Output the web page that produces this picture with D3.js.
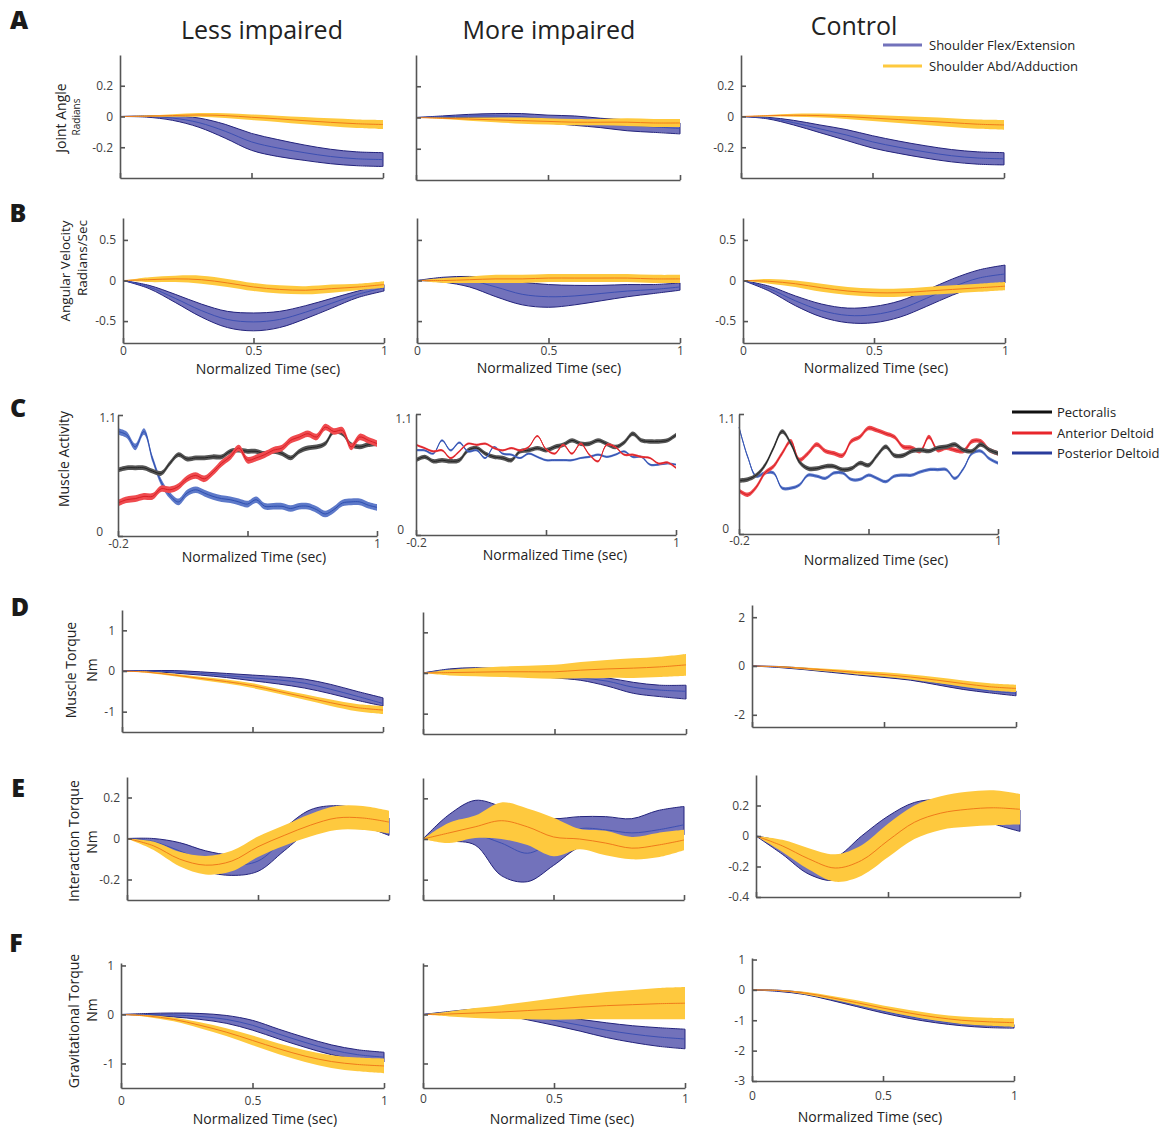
<!DOCTYPE html>
<html>
<head>
<meta charset="utf-8">
<script src="https://cdn.jsdelivr.net/npm/d3@7"></script>
<style>
  html, body { margin: 0; padding: 0; background: #fff; }
  svg { display: block; font-family: "Open Sans", "Noto Sans", sans-serif; }
</style>
</head>
<body>
<script>
// ---------------- DATA ----------------
const tNorm = [0, 0.1, 0.2, 0.3, 0.4, 0.5, 0.6, 0.7, 0.8, 0.9, 1.0];
const tEmg = [-0.2, -0.16, -0.12, -0.08, -0.04, 0, 0.04, 0.08, 0.12, 0.16, 0.2, 0.24, 0.28, 0.32, 0.36, 0.4,
              0.44, 0.48, 0.52, 0.56, 0.6, 0.64, 0.68, 0.72, 0.76, 0.8, 0.84, 0.88, 0.92, 0.96, 1.0];

const columnTitles = ["Less impaired", "More impaired", "Control"];
const jointLegend = ["Shoulder Flex/Extension", "Shoulder Abd/Adduction"];
const muscleLegend = ["Pectoralis", "Anterior Deltoid", "Posterior Deltoid"];
const rowLetters = ["A", "B", "C", "D", "E", "F"];
const emgYTickLabels = ["0", "1.1"];

// A: Joint angle (radians)
const angLessFlexMean = [0, 0, -0.01, -0.04, -0.096, -0.165, -0.205, -0.235, -0.26, -0.275, -0.28];
const angLessFlexSD   = [0, 0.004, 0.015, 0.03, 0.045, 0.055, 0.055, 0.05, 0.047, 0.045, 0.045];
const angLessAbdMean  = [0, 0.002, 0.006, 0.01, 0.006, -0.005, -0.015, -0.027, -0.038, -0.047, -0.052];
const angLessAbdSD    = [0, 0.004, 0.008, 0.012, 0.015, 0.018, 0.02, 0.023, 0.026, 0.028, 0.03];
const angMoreFlexMean = [0, 0.005, 0.01, 0.01, 0.005, -0.01, -0.02, -0.035, -0.05, -0.06, -0.07];
const angMoreFlexSD   = [0, 0.005, 0.01, 0.015, 0.02, 0.025, 0.03, 0.03, 0.035, 0.035, 0.035];
const angMoreAbdMean  = [0, -0.005, -0.01, -0.015, -0.02, -0.025, -0.03, -0.03, -0.03, -0.035, -0.035];
const angMoreAbdSD    = [0, 0.005, 0.01, 0.015, 0.02, 0.02, 0.02, 0.02, 0.025, 0.025, 0.025];
const angCtrlFlexMean = [0, -0.01, -0.04, -0.08, -0.12, -0.165, -0.2, -0.23, -0.255, -0.27, -0.275];
const angCtrlFlexSD   = [0, 0.005, 0.015, 0.025, 0.035, 0.04, 0.04, 0.04, 0.04, 0.04, 0.04];
const angCtrlAbdMean  = [0, 0.005, 0.008, 0.006, 0, -0.01, -0.02, -0.03, -0.04, -0.05, -0.055];
const angCtrlAbdSD    = [0, 0.005, 0.01, 0.013, 0.016, 0.02, 0.023, 0.026, 0.028, 0.03, 0.032];

// B: Angular velocity (radians/sec)
const velLessFlexMean = [0, -0.08, -0.22, -0.37, -0.48, -0.51, -0.48, -0.39, -0.28, -0.17, -0.09];
const velLessFlexSD   = [0, 0.02, 0.05, 0.08, 0.1, 0.11, 0.1, 0.08, 0.06, 0.04, 0.04];
const velLessAbdMean  = [0, 0.01, 0.02, 0.01, -0.03, -0.08, -0.11, -0.12, -0.1, -0.08, -0.05];
const velLessAbdSD    = [0, 0.03, 0.04, 0.05, 0.05, 0.05, 0.05, 0.05, 0.05, 0.04, 0.04];
const velMoreFlexMean = [0, 0.01, 0, -0.08, -0.17, -0.2, -0.19, -0.16, -0.13, -0.11, -0.08];
const velMoreFlexLo   = [0, -0.02, -0.08, -0.2, -0.3, -0.33, -0.3, -0.25, -0.2, -0.16, -0.12];
const velMoreFlexHi   = [0, 0.04, 0.05, 0.03, -0.02, -0.05, -0.06, -0.06, -0.05, -0.05, -0.03];
const velMoreAbdMean  = [0, 0, 0.01, 0.02, 0.02, 0.03, 0.03, 0.03, 0.03, 0.02, 0.02];
const velMoreAbdSD    = [0, 0.03, 0.04, 0.05, 0.05, 0.05, 0.05, 0.05, 0.05, 0.05, 0.05];
const velCtrlFlexMean = [0, -0.1, -0.25, -0.37, -0.43, -0.42, -0.35, -0.22, -0.08, 0.03, 0.08];
const velCtrlFlexSD   = [0, 0.03, 0.06, 0.08, 0.09, 0.1, 0.1, 0.1, 0.1, 0.1, 0.11];
const velCtrlAbdMean  = [0, -0.01, -0.04, -0.09, -0.13, -0.15, -0.15, -0.13, -0.11, -0.09, -0.07];
const velCtrlAbdSD    = [0, 0.03, 0.04, 0.05, 0.05, 0.05, 0.05, 0.05, 0.05, 0.05, 0.05];

// C: Muscle activity (normalized)
const emgLessPec  = [0.6, 0.62, 0.62, 0.62, 0.59, 0.57, 0.66, 0.74, 0.7, 0.71, 0.71, 0.72, 0.72, 0.77, 0.78, 0.77,
                     0.77, 0.75, 0.77, 0.75, 0.71, 0.77, 0.8, 0.81, 0.84, 0.95, 0.93, 0.83, 0.81, 0.83, 0.84];
const emgLessAnt  = [0.3, 0.33, 0.34, 0.36, 0.36, 0.43, 0.42, 0.45, 0.52, 0.55, 0.52, 0.58, 0.66, 0.72, 0.8, 0.69,
                     0.71, 0.74, 0.78, 0.8, 0.87, 0.9, 0.93, 0.9, 0.99, 0.95, 0.96, 0.81, 0.9, 0.87, 0.84];
const emgLessPost = [0.95, 0.92, 0.81, 0.95, 0.7, 0.49, 0.37, 0.31, 0.39, 0.42, 0.39, 0.36, 0.34, 0.33, 0.31, 0.29,
                     0.33, 0.27, 0.27, 0.27, 0.25, 0.27, 0.27, 0.24, 0.2, 0.24, 0.3, 0.31, 0.31, 0.28, 0.26];
const emgMorePec  = [0.68, 0.71, 0.67, 0.68, 0.67, 0.68, 0.77, 0.79, 0.74, 0.71, 0.7, 0.68, 0.76, 0.77, 0.79, 0.77,
                     0.8, 0.82, 0.86, 0.83, 0.83, 0.86, 0.83, 0.8, 0.84, 0.92, 0.86, 0.85, 0.85, 0.86, 0.91];
const emgMoreAnt  = [0.82, 0.79, 0.76, 0.77, 0.7, 0.76, 0.83, 0.82, 0.83, 0.79, 0.77, 0.79, 0.77, 0.8, 0.9, 0.78,
                     0.74, 0.82, 0.74, 0.83, 0.73, 0.67, 0.82, 0.8, 0.73, 0.73, 0.71, 0.7, 0.65, 0.66, 0.61];
const emgMorePost = [0.77, 0.77, 0.74, 0.86, 0.77, 0.84, 0.76, 0.77, 0.7, 0.8, 0.74, 0.73, 0.7, 0.74, 0.71, 0.68,
                     0.68, 0.68, 0.68, 0.7, 0.71, 0.73, 0.71, 0.73, 0.76, 0.71, 0.71, 0.64, 0.64, 0.65, 0.64];
const emgCtrlPec  = [0.49, 0.5, 0.54, 0.63, 0.79, 0.94, 0.83, 0.66, 0.6, 0.6, 0.62, 0.62, 0.59, 0.6, 0.65, 0.63,
                     0.72, 0.8, 0.72, 0.72, 0.76, 0.77, 0.76, 0.79, 0.8, 0.82, 0.77, 0.76, 0.82, 0.77, 0.74];
const emgCtrlAnt  = [0.4, 0.36, 0.43, 0.56, 0.62, 0.74, 0.85, 0.68, 0.74, 0.82, 0.76, 0.74, 0.72, 0.85, 0.89, 0.97,
                     0.95, 0.92, 0.89, 0.8, 0.79, 0.76, 0.89, 0.77, 0.79, 0.77, 0.76, 0.85, 0.85, 0.77, 0.74];
const emgCtrlPost = [0.98, 0.71, 0.53, 0.56, 0.56, 0.42, 0.42, 0.45, 0.54, 0.53, 0.51, 0.56, 0.56, 0.5, 0.5, 0.54,
                     0.51, 0.48, 0.53, 0.54, 0.54, 0.57, 0.59, 0.59, 0.59, 0.51, 0.6, 0.74, 0.76, 0.69, 0.65];
const emgBandLess = [0.022, 0.03, 0.03];   // pec, ant, post
const emgBandMore = [0.02, 0.01, 0.01];
const emgBandCtrl = [0.02, 0.02, 0.015];

// D: Muscle torque (Nm)
const mtLessFlexMean = [0, 0, -0.02, -0.06, -0.11, -0.17, -0.22, -0.3, -0.45, -0.62, -0.8];
const mtLessFlexLo   = [0, -0.01, -0.05, -0.1, -0.16, -0.24, -0.32, -0.42, -0.56, -0.72, -0.86];
const mtLessFlexHi   = [0, 0.01, 0.01, -0.02, -0.06, -0.1, -0.14, -0.2, -0.33, -0.5, -0.66];
const mtLessAbdMean  = [0, -0.03, -0.1, -0.18, -0.26, -0.36, -0.5, -0.64, -0.78, -0.9, -0.96];
const mtLessAbdSD    = [0, 0.02, 0.03, 0.04, 0.05, 0.06, 0.06, 0.07, 0.08, 0.09, 0.1];
const mtMoreFlexMean = [0, 0.08, 0.1, 0.06, -0.02, -0.08, -0.12, -0.2, -0.35, -0.42, -0.45];
const mtMoreFlexLo   = [0, 0.05, 0.07, 0.02, -0.06, -0.12, -0.18, -0.32, -0.5, -0.58, -0.64];
const mtMoreFlexHi   = [0, 0.1, 0.13, 0.1, 0.04, -0.04, -0.06, -0.12, -0.23, -0.3, -0.3];
const mtMoreAbdMean  = [0, 0.01, 0.02, 0.03, 0.03, 0.03, 0.07, 0.1, 0.12, 0.15, 0.2];
const mtMoreAbdSD    = [0, 0.07, 0.1, 0.13, 0.15, 0.17, 0.2, 0.22, 0.24, 0.25, 0.27];
const mtCtrlFlexMean = [0, -0.04, -0.12, -0.22, -0.32, -0.42, -0.52, -0.7, -0.88, -1.02, -1.12];
const mtCtrlFlexSD   = [0, 0.02, 0.03, 0.04, 0.05, 0.05, 0.06, 0.07, 0.08, 0.08, 0.1];
const mtCtrlAbdMean  = [0, -0.03, -0.1, -0.18, -0.27, -0.35, -0.45, -0.58, -0.72, -0.85, -0.92];
const mtCtrlAbdSD    = [0, 0.02, 0.04, 0.06, 0.08, 0.09, 0.1, 0.12, 0.13, 0.14, 0.15];

// E: Interaction torque (Nm)
const itLessFlexMean = [0, -0.015, -0.06, -0.11, -0.13, -0.11, -0.005, 0.09, 0.12, 0.1, 0.06];
const itLessFlexLo   = [0, -0.03, -0.1, -0.16, -0.18, -0.16, -0.06, 0.04, 0.08, 0.06, 0.015];
const itLessFlexHi   = [0, 0, -0.02, -0.06, -0.08, -0.06, 0.05, 0.14, 0.16, 0.14, 0.1];
const itLessAbdMean  = [0, -0.035, -0.1, -0.13, -0.11, -0.04, 0.015, 0.065, 0.1, 0.1, 0.08];
const itLessAbdSD    = [0, 0.02, 0.035, 0.045, 0.05, 0.05, 0.05, 0.055, 0.058, 0.058, 0.055];
const itMoreFlexMean = [0, 0.01, 0.02, -0.02, -0.07, -0.01, 0.05, 0.045, 0.03, 0.045, 0.07];
const itMoreFlexLo   = [0, -0.01, -0.03, -0.18, -0.21, -0.13, -0.04, -0.02, -0.03, -0.01, 0.02];
const itMoreFlexHi   = [0, 0.12, 0.19, 0.16, 0.12, 0.1, 0.11, 0.11, 0.1, 0.14, 0.16];
const itMoreAbdMean  = [0, 0.03, 0.06, 0.09, 0.06, 0.01, 0, -0.02, -0.045, -0.03, -0.005];
const itMoreAbdSD    = [0, 0.05, 0.055, 0.09, 0.09, 0.095, 0.05, 0.06, 0.055, 0.06, 0.05];
const itCtrlFlexMean = [0, -0.08, -0.2, -0.22, -0.1, 0.05, 0.17, 0.2, 0.2, 0.15, 0.1];
const itCtrlFlexLo   = [0, -0.12, -0.25, -0.29, -0.18, -0.05, 0.08, 0.14, 0.15, 0.08, 0.03];
const itCtrlFlexHi   = [0, -0.04, -0.14, -0.14, 0, 0.13, 0.22, 0.24, 0.23, 0.2, 0.17];
const itCtrlAbdMean  = [0, -0.065, -0.15, -0.21, -0.16, -0.03, 0.09, 0.15, 0.175, 0.185, 0.175];
const itCtrlAbdSD    = [0, 0.04, 0.07, 0.09, 0.1, 0.11, 0.11, 0.11, 0.115, 0.115, 0.1];

// F: Gravitational torque (Nm)
const gtLessFlexMean = [0, 0, -0.01, -0.04, -0.1, -0.22, -0.4, -0.57, -0.72, -0.82, -0.87];
const gtLessFlexSD   = [0, 0.02, 0.04, 0.06, 0.08, 0.1, 0.1, 0.1, 0.1, 0.1, 0.1];
const gtLessAbdMean  = [0, -0.03, -0.1, -0.22, -0.36, -0.53, -0.7, -0.85, -0.96, -1.02, -1.05];
const gtLessAbdSD    = [0, 0.02, 0.04, 0.06, 0.08, 0.1, 0.11, 0.12, 0.13, 0.14, 0.15];
const gtMoreFlexMean = [0, 0.04, 0.07, 0.05, -0.03, -0.12, -0.22, -0.32, -0.4, -0.46, -0.5];
const gtMoreFlexSD   = [0, 0.02, 0.04, 0.06, 0.08, 0.1, 0.12, 0.15, 0.17, 0.19, 0.2];
const gtMoreAbdMean  = [0, 0.01, 0.03, 0.05, 0.08, 0.11, 0.15, 0.18, 0.2, 0.22, 0.23];
const gtMoreAbdSD    = [0, 0.05, 0.1, 0.14, 0.18, 0.22, 0.25, 0.28, 0.3, 0.32, 0.33];
const gtCtrlFlexMean = [0, -0.03, -0.12, -0.3, -0.5, -0.7, -0.88, -1.02, -1.12, -1.18, -1.2];
const gtCtrlFlexSD   = [0, 0.02, 0.03, 0.04, 0.05, 0.06, 0.06, 0.06, 0.06, 0.06, 0.06];
const gtCtrlAbdMean  = [0, -0.02, -0.1, -0.25, -0.42, -0.6, -0.76, -0.9, -1.0, -1.05, -1.08];
const gtCtrlAbdSD    = [0, 0.02, 0.04, 0.06, 0.08, 0.09, 0.1, 0.11, 0.12, 0.13, 0.14];

// ---------------- STYLE ----------------
const STY = {
  flex: { fill: "#7272bb", edge: "#23237c", line: "#3c4fb2" },
  abd:  { fill: "#fec93e", edge: null, line: "#f07a1a" },
  pec:  { fill: "#555555", edge: null, line: "#222222" },
  ant:  { fill: "#ef4a4e", edge: null, line: "#d81e25" },
  post: { fill: "#5d79c9", edge: null, line: "#2f4fb0" }
};
const AXC = "#555", TXC = "#3f3f3f";
const FONT = "'Open Sans', 'Noto Sans', sans-serif";

const W = 1166, H = 1127;
const svg = d3.select("body").append("svg").attr("width", W).attr("height", H);

function jointSeries(kind, mean, sd, lo, hi) { return { kind, t: tNorm, mean, sd, lo, hi }; }
function emgSeries(kind, mean, bw) { return { kind, t: tEmg, mean, sd: mean.map(() => bw) }; }

const fmt = d => String(d);

const panels = [
  // Row A
  { x0: 120, x1: 383, yt: 55, yb: 178, yd: [-0.4, 0.4], yv: [-0.2, 0, 0.2], yl: true, xd: [0, 1], xv: [0, 0.5, 1], xl: false,
    s: [jointSeries("flex", angLessFlexMean, angLessFlexSD), jointSeries("abd", angLessAbdMean, angLessAbdSD)] },
  { x0: 416, x1: 680, yt: 55, yb: 180, yd: [-0.4, 0.4], yv: [-0.2, 0, 0.2], yl: false, xd: [0, 1], xv: [0, 0.5, 1], xl: false,
    s: [jointSeries("flex", angMoreFlexMean, angMoreFlexSD), jointSeries("abd", angMoreAbdMean, angMoreAbdSD)] },
  { x0: 741, x1: 1004, yt: 55, yb: 178, yd: [-0.4, 0.4], yv: [-0.2, 0, 0.2], yl: true, xd: [0, 1], xv: [0, 0.5, 1], xl: false,
    s: [jointSeries("flex", angCtrlFlexMean, angCtrlFlexSD), jointSeries("abd", angCtrlAbdMean, angCtrlAbdSD)] },
  // Row B
  { x0: 123, x1: 384, yt: 218, yb: 343, yd: [-0.77, 0.77], yv: [-0.5, 0, 0.5], yl: true, xd: [0, 1], xv: [0, 0.5, 1], xl: true, xpad: 3,
    title: [268, 369], s: [jointSeries("flex", velLessFlexMean, velLessFlexSD), jointSeries("abd", velLessAbdMean, velLessAbdSD)] },
  { x0: 417, x1: 680, yt: 218, yb: 343, yd: [-0.77, 0.77], yv: [-0.5, 0, 0.5], yl: false, xd: [0, 1], xv: [0, 0.5, 1], xl: true, xpad: 3,
    title: [549, 368], s: [jointSeries("flex", velMoreFlexMean, null, velMoreFlexLo, velMoreFlexHi), jointSeries("abd", velMoreAbdMean, velMoreAbdSD)] },
  { x0: 743, x1: 1005, yt: 218, yb: 343, yd: [-0.77, 0.77], yv: [-0.5, 0, 0.5], yl: true, xd: [0, 1], xv: [0, 0.5, 1], xl: true, xpad: 3,
    title: [876, 368], s: [jointSeries("flex", velCtrlFlexMean, velCtrlFlexSD), jointSeries("abd", velCtrlAbdMean, velCtrlAbdSD)] },
  // Row C
  { x0: 118, x1: 377, yt: 415, yb: 536, yd: [0, 1.1], yv: [0, 1.1], yl: false, xd: [-0.2, 1], xv: [-0.2, 0.4, 1], xl: true, xpad: 3, emg: true,
    ylab: [[103, 532], [116, 418]],
    title: [254, 557], s: [emgSeries("post", emgLessPost, emgBandLess[2]), emgSeries("pec", emgLessPec, emgBandLess[0]), emgSeries("ant", emgLessAnt, emgBandLess[1])] },
  { x0: 416, x1: 676, yt: 414, yb: 535, yd: [0, 1.1], yv: [0, 1.1], yl: false, xd: [-0.2, 1], xv: [-0.2, 0.4, 1], xl: true, xpad: 3, emg: true,
    ylab: [[404, 530], [412, 419]],
    title: [555, 555], s: [emgSeries("pec", emgMorePec, emgBandMore[0]), emgSeries("post", emgMorePost, emgBandMore[2]), emgSeries("ant", emgMoreAnt, emgBandMore[1])] },
  { x0: 739, x1: 998, yt: 414, yb: 534, yd: [0, 1.1], yv: [0, 1.1], yl: false, xd: [-0.2, 1], xv: [-0.2, 0.4, 1], xl: true, xpad: 2, emg: true,
    ylab: [[729, 529], [735, 419]],
    title: [876, 560], s: [emgSeries("post", emgCtrlPost, emgBandCtrl[2]), emgSeries("ant", emgCtrlAnt, emgBandCtrl[1]), emgSeries("pec", emgCtrlPec, emgBandCtrl[0])] },
  // Row D
  { x0: 122, x1: 383, yt: 610, yb: 732, yd: [-1.5, 1.5], yv: [-1, 0, 1], yl: true, xd: [0, 1], xv: [0, 0.5, 1], xl: false,
    s: [jointSeries("flex", mtLessFlexMean, null, mtLessFlexLo, mtLessFlexHi), jointSeries("abd", mtLessAbdMean, mtLessAbdSD)] },
  { x0: 423, x1: 686, yt: 612, yb: 734, yd: [-1.5, 1.5], yv: [-1, 0, 1], yl: false, xd: [0, 1], xv: [0, 0.5, 1], xl: false,
    s: [jointSeries("flex", mtMoreFlexMean, null, mtMoreFlexLo, mtMoreFlexHi), jointSeries("abd", mtMoreAbdMean, mtMoreAbdSD)] },
  { x0: 752, x1: 1016, yt: 605, yb: 727, yd: [-2.5, 2.5], yv: [-2, 0, 2], yl: true, xd: [0, 1], xv: [0, 0.5, 1], xl: false,
    s: [jointSeries("flex", mtCtrlFlexMean, mtCtrlFlexSD), jointSeries("abd", mtCtrlAbdMean, mtCtrlAbdSD)] },
  // Row E
  { x0: 127, x1: 389, yt: 777, yb: 900, yd: [-0.3, 0.3], yv: [-0.2, 0, 0.2], yl: true, xd: [0, 1], xv: [0, 0.5, 1], xl: false,
    s: [jointSeries("flex", itLessFlexMean, null, itLessFlexLo, itLessFlexHi), jointSeries("abd", itLessAbdMean, itLessAbdSD)] },
  { x0: 423, x1: 684, yt: 778, yb: 900, yd: [-0.3, 0.3], yv: [-0.2, 0, 0.2], yl: false, xd: [0, 1], xv: [0, 0.5, 1], xl: false,
    s: [jointSeries("flex", itMoreFlexMean, null, itMoreFlexLo, itMoreFlexHi), jointSeries("abd", itMoreAbdMean, itMoreAbdSD)] },
  { x0: 756, x1: 1020, yt: 775, yb: 897, yd: [-0.4, 0.4], yv: [-0.4, -0.2, 0, 0.2], yl: true, xd: [0, 1], xv: [0, 0.5, 1], xl: false,
    s: [jointSeries("flex", itCtrlFlexMean, null, itCtrlFlexLo, itCtrlFlexHi), jointSeries("abd", itCtrlAbdMean, itCtrlAbdSD)] },
  // Row F
  { x0: 121, x1: 384, yt: 963, yb: 1088, yd: [-1.5, 1.05], yv: [-1, 0, 1], yl: true, xd: [0, 1], xv: [0, 0.5, 1], xl: true, xpad: 8,
    title: [265, 1119], s: [jointSeries("flex", gtLessFlexMean, gtLessFlexSD), jointSeries("abd", gtLessAbdMean, gtLessAbdSD)] },
  { x0: 423, x1: 685, yt: 963, yb: 1088, yd: [-1.5, 1.05], yv: [-1, 0, 1], yl: false, xd: [0, 1], xv: [0, 0.5, 1], xl: true, xpad: 6,
    title: [562, 1119], s: [jointSeries("flex", gtMoreFlexMean, gtMoreFlexSD), jointSeries("abd", gtMoreAbdMean, gtMoreAbdSD)] },
  { x0: 752, x1: 1014, yt: 958, yb: 1081, yd: [-3, 1.05], yv: [-3, -2, -1, 0, 1], yl: true, xd: [0, 1], xv: [0, 0.5, 1], xl: true, xpad: 10,
    title: [870, 1117], s: [jointSeries("flex", gtCtrlFlexMean, gtCtrlFlexSD), jointSeries("abd", gtCtrlAbdMean, gtCtrlAbdSD)] }
];

function drawPanel(p) {
  const x = d3.scaleLinear().domain(p.xd).range([p.x0, p.x1]);
  const y = d3.scaleLinear().domain(p.yd).range([p.yb, p.yt]);
  const g = svg.append("g");
  const curve = d3.curveCatmullRom.alpha(0.5);

  p.s.forEach(s => {
    const st = STY[s.kind];
    const lo = s.lo || s.mean.map((m, i) => m - s.sd[i]);
    const hi = s.hi || s.mean.map((m, i) => m + s.sd[i]);
    const pts = s.t.map((tt, i) => ({ t: tt, lo: lo[i], hi: hi[i], m: s.mean[i] }));
    const area = d3.area().x(d => x(d.t)).y0(d => y(d.lo)).y1(d => y(d.hi)).curve(curve);
    const line = d3.line().x(d => x(d.t)).y(d => y(d.m)).curve(curve);
    g.append("path").datum(pts).attr("d", area)
      .attr("fill", st.fill)
      .attr("stroke", st.edge || "none")
      .attr("stroke-width", st.edge ? 1 : 0)
      .attr("stroke-linejoin", "round");
    g.append("path").datum(pts).attr("d", line)
      .attr("fill", "none").attr("stroke", st.line).attr("stroke-width", 1);
  });

  const ya = d3.axisLeft(y).tickValues(p.yv).tickSize(-5).tickSizeOuter(0).tickPadding(7)
    .tickFormat(p.yl ? fmt : "");
  const xa = d3.axisBottom(x).tickValues(p.xv).tickSize(-5).tickSizeOuter(0).tickPadding(p.xpad || 4)
    .tickFormat(p.xl ? (d => (p.emg && Math.abs(d - 0.4) < 1e-9) ? "" : fmt(d)) : "");

  const gy = g.append("g").attr("transform", `translate(${p.x0},0)`).call(ya);
  const gx = g.append("g").attr("transform", `translate(0,${p.yb})`).call(xa);
  [gy, gx].forEach(a => {
    a.select(".domain").attr("stroke", AXC).attr("stroke-width", 1.6);
    a.selectAll(".tick line").attr("stroke", AXC).attr("stroke-width", 1.6);
    a.selectAll(".tick text").attr("fill", TXC).attr("font-size", 12).attr("font-family", FONT);
  });
  if (p.ylab) {
    p.ylab.forEach((pos, i) => {
      g.append("text").attr("x", pos[0]).attr("y", pos[1]).attr("dy", "0.35em")
        .attr("text-anchor", "end").attr("font-size", 12).attr("fill", TXC).text(emgYTickLabels[i]);
    });
  }
  if (p.title) {
    svg.append("text").attr("x", p.title[0]).attr("y", p.title[1]).attr("dy", "0.35em")
      .attr("text-anchor", "middle").attr("font-size", 14).attr("fill", "#222")
      .text("Normalized Time (sec)");
  }
}
panels.forEach(drawPanel);

// Column titles
const colTitlePos = [[262, 30], [549, 30], [854, 26]];
columnTitles.forEach((tx, i) => {
  svg.append("text").attr("x", colTitlePos[i][0]).attr("y", colTitlePos[i][1]).attr("dy", "0.35em")
    .attr("text-anchor", "middle").attr("font-size", 25).attr("fill", "#222").text(tx);
});

// Row letters
const letterPos = [[19, 20], [18, 213], [18, 408], [20, 607], [18, 788], [16, 943]];
rowLetters.forEach((l, i) => {
  svg.append("text").attr("x", letterPos[i][0]).attr("y", letterPos[i][1]).attr("dy", "0.36em")
    .attr("text-anchor", "middle").attr("font-size", 25).attr("font-weight", 800).attr("fill", "#1a1a1a")
    .attr("font-family", FONT).text(l);
});

// Y-axis labels (rotated)
const yLabels = [
  { t: "Joint Angle", x: 66, y: 118, fs: 14 },
  { t: "Radians", x: 80, y: 117, fs: 10 },
  { t: "Angular Velocity", x: 70, y: 271, fs: 13.5 },
  { t: "Radians/Sec", x: 87, y: 258, fs: 13.5 },
  { t: "Muscle Activity", x: 69, y: 459, fs: 14 },
  { t: "Muscle Torque", x: 76, y: 670, fs: 14 },
  { t: "Nm", x: 97, y: 670, fs: 14 },
  { t: "Interaction Torque", x: 79, y: 841, fs: 14 },
  { t: "Nm", x: 97, y: 842, fs: 14 },
  { t: "Gravitational Torque", x: 79, y: 1021, fs: 14 },
  { t: "Nm", x: 97, y: 1010, fs: 14 }
];
yLabels.forEach(l => {
  svg.append("text").attr("transform", `translate(${l.x},${l.y}) rotate(-90)`)
    .attr("text-anchor", "middle").attr("font-size", l.fs).attr("fill", "#222").text(l.t);
});

// Legend for joints
const jointLegY = [45, 66];
jointLegend.forEach((tx, i) => {
  const st = i === 0 ? STY.flex : STY.abd;
  svg.append("line").attr("x1", 883).attr("x2", 922).attr("y1", jointLegY[i]).attr("y2", jointLegY[i])
    .attr("stroke", st.fill).attr("stroke-width", 3);
  svg.append("text").attr("x", 929).attr("y", jointLegY[i]).attr("dy", "0.35em")
    .attr("font-size", 13).attr("fill", "#222").text(tx);
});

// Legend for muscles
const muscleLegY = [412, 433, 453];
const muscleLegCol = ["#111111", "#e8262b", "#2a3c9c"];
muscleLegend.forEach((tx, i) => {
  svg.append("line").attr("x1", 1012).attr("x2", 1052).attr("y1", muscleLegY[i]).attr("y2", muscleLegY[i])
    .attr("stroke", muscleLegCol[i]).attr("stroke-width", 3);
  svg.append("text").attr("x", 1057).attr("y", muscleLegY[i]).attr("dy", "0.35em")
    .attr("font-size", 13).attr("fill", "#222").text(tx);
});
</script>
</body>
</html>
